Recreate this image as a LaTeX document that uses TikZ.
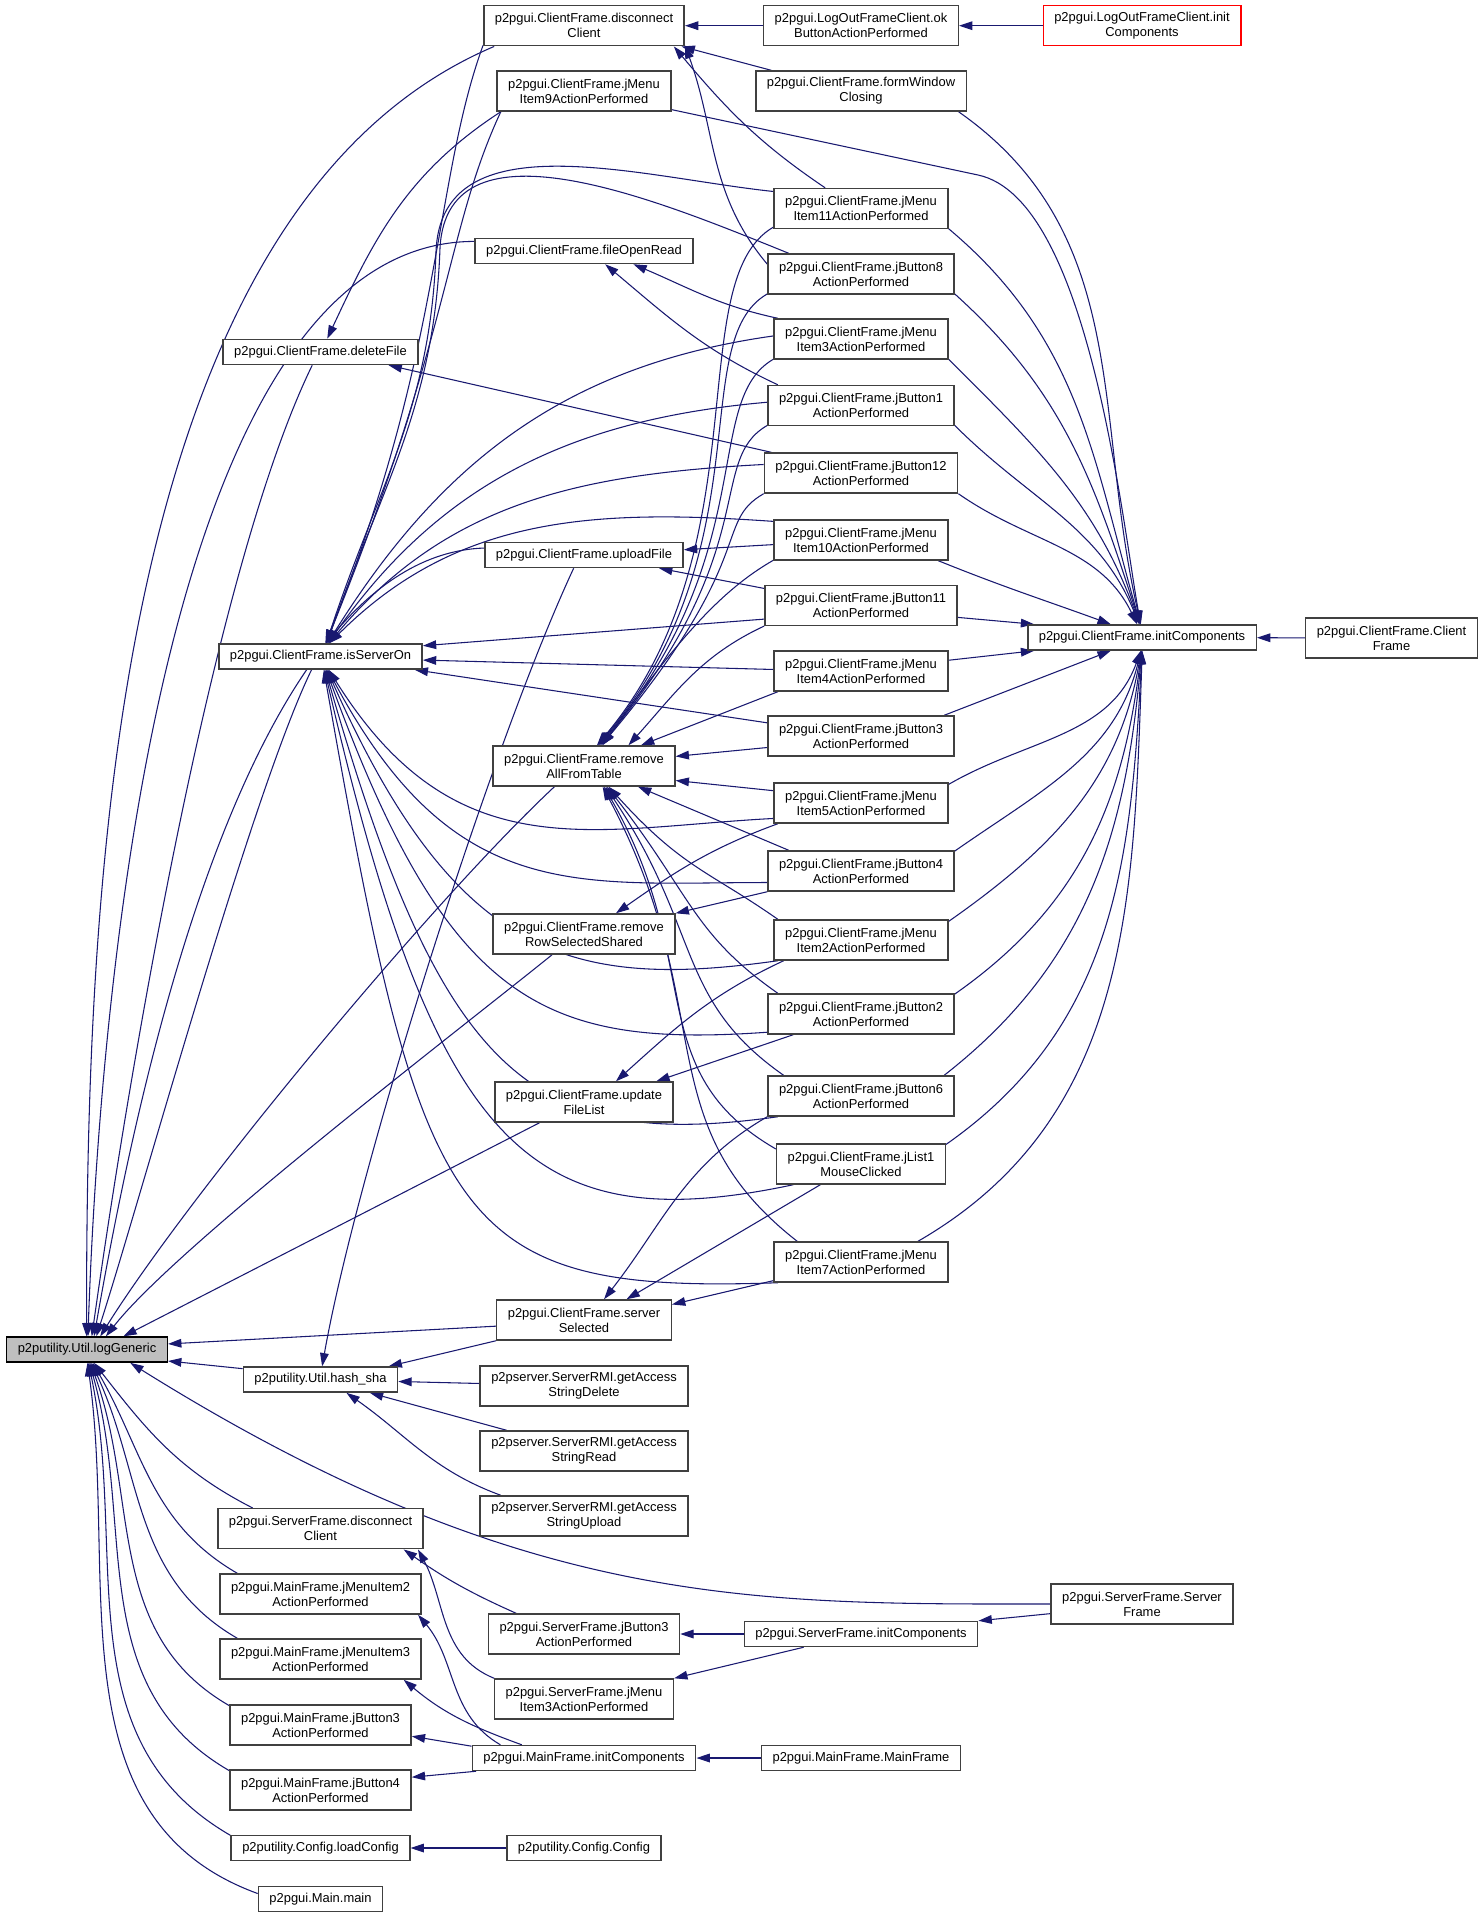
\documentclass[tikz,border=0pt]{standalone}
\usepackage{fontspec}
\newfontfamily\dotfont{Liberation Sans}
\usetikzlibrary{arrows.meta}
\definecolor{edgeblue}{RGB}{25,25,112}
\pgfdeclarelayer{edges}
\pgfsetlayers{edges,main}

\begin{document}
\begin{tikzpicture}[x=0.75pt,y=0.75pt]
\tikzstyle{fnode}=[draw=black!75,fill=white,line width=1.1pt,font=\dotfont\fontsize{9.7}{11.25}\selectfont,align=center,inner xsep=8.3pt,inner ysep=0pt,minimum height=18.75pt]
\tikzstyle{every node}=[fnode]
\tikzstyle{twoline}=[minimum height=30pt]
\tikzstyle{rootnode}=[fill=black!25,draw=black]
\tikzstyle{cutnode}=[draw=red]
\tikzstyle{callarrow}=[edgeblue,line width=0.8pt,{Triangle[length=10pt,width=6.5pt]}-]
\useasboundingbox (0,0) rectangle (1484,-1918);

\node[rootnode] (logGen) at (87,-1349.6) {p2putility.Util.logGeneric};

\node (cfDelete) at (320.5,-352) {p2pgui.ClientFrame.deleteFile};
\node (cfServerOn) at (320.5,-656.5) {p2pgui.ClientFrame.isServerOn};
\node (hashSha) at (320.5,-1379.6) {p2putility.Util.hash\_sha};
\node[twoline] (sfDisconnect) at (320.5,-1528.7) {p2pgui.ServerFrame.disconnect\\Client};
\node[twoline] (mfMenu2) at (320.5,-1594) {p2pgui.MainFrame.jMenuItem2\\ActionPerformed};
\node[twoline] (mfMenu3) at (320.5,-1659) {p2pgui.MainFrame.jMenuItem3\\ActionPerformed};
\node[twoline] (mfButton3) at (320.5,-1725) {p2pgui.MainFrame.jButton3\\ActionPerformed};
\node[twoline] (mfButton4) at (320.5,-1790) {p2pgui.MainFrame.jButton4\\ActionPerformed};
\node (loadConfig) at (320.5,-1848) {p2putility.Config.loadConfig};
\node (mainMain) at (320.5,-1899) {p2pgui.Main.main};

\node[twoline] (cfDisconnect) at (584,-25.7) {p2pgui.ClientFrame.disconnect\\Client};
\node[twoline] (cfMenu9) at (584,-91) {p2pgui.ClientFrame.jMenu\\Item9ActionPerformed};
\node (cfOpenRead) at (584,-251) {p2pgui.ClientFrame.fileOpenRead};
\node (cfUpload) at (584,-555) {p2pgui.ClientFrame.uploadFile};
\node[twoline] (cfRemoveAll) at (584,-766) {p2pgui.ClientFrame.remove\\AllFromTable};
\node[twoline] (cfRemoveRow) at (584,-934) {p2pgui.ClientFrame.remove\\RowSelectedShared};
\node[twoline] (cfUpdate) at (584,-1102) {p2pgui.ClientFrame.update\\FileList};
\node[twoline] (cfSelected) at (584,-1320) {p2pgui.ClientFrame.server\\Selected};
\node[twoline] (rmiDelete) at (584,-1386) {p2pserver.ServerRMI.getAccess\\StringDelete};
\node[twoline] (rmiRead) at (584,-1451) {p2pserver.ServerRMI.getAccess\\StringRead};
\node[twoline] (rmiUpload) at (584,-1516) {p2pserver.ServerRMI.getAccess\\StringUpload};
\node[twoline] (sfButton3) at (584,-1634) {p2pgui.ServerFrame.jButton3\\ActionPerformed};
\node[twoline] (sfMenu3) at (584,-1699) {p2pgui.ServerFrame.jMenu\\Item3ActionPerformed};
\node (mfInit) at (584,-1758) {p2pgui.MainFrame.initComponents};
\node (cfgConfig) at (584,-1848) {p2putility.Config.Config};

\node[twoline] (loOk) at (861,-25.7) {p2pgui.LogOutFrameClient.ok\\ButtonActionPerformed};
\node[twoline] (cfClosing) at (861,-91) {p2pgui.ClientFrame.formWindow\\Closing};
\node[twoline] (cfMenu11) at (861,-208.5) {p2pgui.ClientFrame.jMenu\\Item11ActionPerformed};
\node[twoline] (cfButton8) at (861,-274) {p2pgui.ClientFrame.jButton8\\ActionPerformed};
\node[twoline] (cfMenu3) at (861,-339) {p2pgui.ClientFrame.jMenu\\Item3ActionPerformed};
\node[twoline] (cfButton1) at (861,-405.5) {p2pgui.ClientFrame.jButton1\\ActionPerformed};
\node[twoline] (cfButton12) at (861,-473) {p2pgui.ClientFrame.jButton12\\ActionPerformed};
\node[twoline] (cfMenu10) at (861,-540) {p2pgui.ClientFrame.jMenu\\Item10ActionPerformed};
\node[twoline] (cfButton11) at (861,-605.5) {p2pgui.ClientFrame.jButton11\\ActionPerformed};
\node[twoline] (cfMenu4) at (861,-671) {p2pgui.ClientFrame.jMenu\\Item4ActionPerformed};
\node[twoline] (cfButton3) at (861,-736) {p2pgui.ClientFrame.jButton3\\ActionPerformed};
\node[twoline] (cfMenu5) at (861,-803) {p2pgui.ClientFrame.jMenu\\Item5ActionPerformed};
\node[twoline] (cfButton4) at (861,-871) {p2pgui.ClientFrame.jButton4\\ActionPerformed};
\node[twoline] (cfMenu2) at (861,-940) {p2pgui.ClientFrame.jMenu\\Item2ActionPerformed};
\node[twoline] (cfButton2) at (861,-1014) {p2pgui.ClientFrame.jButton2\\ActionPerformed};
\node[twoline] (cfButton6) at (861,-1096) {p2pgui.ClientFrame.jButton6\\ActionPerformed};
\node[twoline] (cfList1) at (861,-1164) {p2pgui.ClientFrame.jList1\\MouseClicked};
\node[twoline] (cfMenu7) at (861,-1262) {p2pgui.ClientFrame.jMenu\\Item7ActionPerformed};
\node (sfInit) at (861,-1634) {p2pgui.ServerFrame.initComponents};
\node (mfMain) at (861,-1758) {p2pgui.MainFrame.MainFrame};

\node[twoline,cutnode] (loInit) at (1142,-25.7) {p2pgui.LogOutFrameClient.init\\Components};
\node (cfInit) at (1142,-637.5) {p2pgui.ClientFrame.initComponents};
\node[twoline] (sfServer) at (1142,-1604) {p2pgui.ServerFrame.Server\\Frame};
\node[twoline] (cfClient) at (1391.5,-638) {p2pgui.ClientFrame.Client\\Frame};

\coordinate (riseA) at (436,-252);
\coordinate (riseB) at (440,-248);
\coordinate (menuBend) at (978,-175);

\begin{pgfonlayer}{edges}
% callers of logGeneric
\draw[callarrow] (logGen.92) to[out=90,in=-157,looseness=0.8] (cfDisconnect.-167);
\draw[callarrow] (logGen.86) to[out=88,in=180,looseness=0.7] (cfOpenRead.175);
\draw[callarrow] (logGen.70) to[out=82,in=-116,looseness=0.6] (cfDelete.-122);
\draw[callarrow] (logGen.62) to[out=80,in=182,looseness=0.7] (cfUpload.176);
\draw[callarrow] (logGen.55) to[out=72,in=-116,looseness=0.5] (cfServerOn.-124);
\draw[callarrow] (logGen.45) to[out=58,in=-137,looseness=0.6] (cfRemoveAll.-145);
\draw[callarrow] (logGen.35) to[out=52,in=-141,looseness=0.5] (cfRemoveRow.-147);
\draw[callarrow] (logGen.20) -- (cfUpdate.-155);
\draw[callarrow] (logGen.4) -- (cfSelected.-176);
\draw[callarrow] (logGen.-8) -- (hashSha.172);
\draw[callarrow] (logGen.-17) to[out=-32,in=180,out looseness=1.25,in looseness=0.8] (sfServer.west);
\draw[callarrow] (logGen.-62) to[out=-52,in=153] (sfDisconnect.163);
\draw[callarrow] (logGen.-67) to[out=-60,in=150] (mfMenu2.166);
\draw[callarrow] (logGen.-72) to[out=-65,in=150] (mfMenu3.166);
\draw[callarrow] (logGen.-76) to[out=-70,in=150] (mfButton3.168);
\draw[callarrow] (logGen.-80) to[out=-74,in=150] (mfButton4.168);
\draw[callarrow] (logGen.-84) to[out=-78,in=150] (loadConfig.172);
\draw[callarrow] (logGen.-88) to[out=-82,in=160] (mainMain.175);

% callers of isServerOn
\draw[callarrow] (cfServerOn.70) to[out=68,in=-110,out looseness=1.3,in looseness=0.6] (cfDisconnect.-169);
\draw[callarrow] (cfServerOn.68) to[out=68,in=-115,out looseness=1.55,in looseness=0.6] (cfMenu9.-166);
\draw[callarrow] (cfServerOn.66) to[out=72,in=-92] (riseA) to[out=88,in=174] (cfMenu11.169);
\draw[callarrow] (cfServerOn.64) to[out=71,in=-92] (riseB) to[out=87,in=158] (cfButton8.164);
\draw[callarrow] (cfServerOn.62) to[out=58,in=-172] (cfMenu3.178);
\draw[callarrow] (cfServerOn.60) to[out=55,in=-175] (cfButton1.178);
\draw[callarrow] (cfServerOn.58) to[out=50,in=-177] (cfButton12.175);
\draw[callarrow] (cfServerOn.56) to[out=45,in=176] (cfMenu10.168);
\draw[callarrow] (cfServerOn.6) -- (cfButton11.-172);
\draw[callarrow] (cfServerOn.-2) -- (cfMenu4.179);
\draw[callarrow] (cfServerOn.-8) -- (cfButton3.172);
\draw[callarrow] (cfServerOn.-58) to[out=-58,in=-177,out looseness=1.3] (cfMenu5.-170);
\draw[callarrow] (cfServerOn.-61) to[out=-62,in=180,out looseness=1.4] (cfButton4.-173);
\draw[callarrow] (cfServerOn.-64) to[out=-66,in=-172,out looseness=1.5] (cfMenu2.-166);
\draw[callarrow] (cfServerOn.-67) to[out=-70,in=-176,out looseness=1.6] (cfButton2.-169);
\draw[callarrow] (cfServerOn.-70) to[out=-74,in=-172,out looseness=1.7] (cfButton6.-166);
\draw[callarrow] (cfServerOn.-73) to[out=-77,in=-168,out looseness=1.8] (cfList1.-163);
\draw[callarrow] (cfServerOn.-76) to[out=-80,in=-178,out looseness=1.9,in looseness=1.1] (cfMenu7.-166);

% callers of removeAllFromTable
\draw[callarrow] (cfRemoveAll.58) to[out=50,in=-150,out looseness=1.21,in looseness=0.5] (cfMenu11.-168);
\draw[callarrow] (cfRemoveAll.56) to[out=50,in=-150,out looseness=1.38,in looseness=0.5] (cfButton8.-168);
\draw[callarrow] (cfRemoveAll.54) to[out=50,in=-150,out looseness=1.53,in looseness=0.5] (cfMenu3.-167);
\draw[callarrow] (cfRemoveAll.52) to[out=50,in=-150,out looseness=1.81,in looseness=0.5] (cfButton1.-168);
\draw[callarrow] (cfRemoveAll.50) to[out=50,in=-150,out looseness=2.1,in looseness=0.5] (cfButton12.-168);
\draw[callarrow] (cfRemoveAll.48) to[out=55,in=-150,out looseness=1.5,in looseness=0.5] (cfMenu10.-167);
\draw[callarrow] (cfRemoveAll.25) to[out=48,in=-155] (cfButton11.-168);
\draw[callarrow] (cfRemoveAll.20) -- (cfMenu4.-166);
\draw[callarrow] (cfRemoveAll.6) -- (cfButton3.-173);
\draw[callarrow] (cfRemoveAll.-9) -- (cfMenu5.172);
\draw[callarrow] (cfRemoveAll.-21) -- (cfButton4.164);
\draw[callarrow] (cfRemoveAll.-40) to[out=-48,in=145,out looseness=1.3] (cfMenu2.166);
\draw[callarrow] (cfRemoveAll.-42) to[out=-52,in=145,out looseness=1.3] (cfButton2.166);
\draw[callarrow] (cfRemoveAll.-44) to[out=-56,in=145,out looseness=1.3] (cfButton6.165);
\draw[callarrow] (cfRemoveAll.-46) to[out=-60,in=150,out looseness=1.3] (cfList1.170);
\draw[callarrow] (cfRemoveAll.-48) to[out=-62,in=142,out looseness=1.3] (cfMenu7.162);

% callers of ClientFrame.initComponents
\draw[callarrow] (cfInit) -- (cfClient);
\draw[callarrow] (cfInit.95) to[out=103,in=-35] (cfClosing.-12);
\draw[callarrow] (cfInit.96) to[out=100,in=-12,looseness=0.6] (menuBend) -- (cfMenu9.-12);
\draw[callarrow] (cfInit.97) to[out=106,in=-40] (cfMenu11.-13);
\draw[callarrow] (cfInit.98) to[out=108,in=-42] (cfButton8.-12);
\draw[callarrow] (cfInit.100) to[out=110,in=-45] (cfMenu3.-13);
\draw[callarrow] (cfInit.102) to[out=112,in=-45] (cfButton1.-12);
\draw[callarrow] (cfInit.110) to[out=116,in=-35] (cfButton12.-12);
\draw[callarrow] (cfInit.157) to[out=160,in=-22] (cfMenu10.-15);
\draw[callarrow] (cfInit.173) -- (cfButton11.-7);
\draw[callarrow] (cfInit.-173) -- (cfMenu4.7);
\draw[callarrow] (cfInit.-157) -- (cfButton3.14);
\draw[callarrow] (cfInit.-95) to[out=-110,in=30] (cfMenu5.12);
\draw[callarrow] (cfInit.-94) to[out=-104,in=35] (cfButton4.12);
\draw[callarrow] (cfInit.-93) to[out=-100,in=35] (cfMenu2.12);
\draw[callarrow] (cfInit.-92) to[out=-97,in=35] (cfButton2.12);
\draw[callarrow] (cfInit.-91) to[out=-95,in=38] (cfButton6.14);
\draw[callarrow] (cfInit.-90) to[out=-93,in=35] (cfList1.13);
\draw[callarrow] (cfInit.-89) to[out=-92,in=30] (cfMenu7.20);

% ClientFrame.disconnectClient and the small ones
\draw[callarrow] (cfDisconnect) -- (loOk);
\draw[callarrow] (loOk) -- (loInit);
\draw[callarrow] (cfDisconnect.-12) -- (cfClosing.167);
\draw[callarrow] (cfDisconnect.-13) to[out=-50,in=146] (cfMenu11.150);
\draw[callarrow] (cfDisconnect.-11) to[out=-70,in=130] (cfButton8.174);
\draw[callarrow] (cfOpenRead.-15) to[out=-23,in=168] (cfMenu3.166);
\draw[callarrow] (cfOpenRead.-32) to[out=-40,in=155] (cfButton1.166);
\draw[callarrow] (cfUpload.3) -- (cfMenu10.-177);
\draw[callarrow] (cfUpload.-10) -- (cfButton11.170);
\draw[callarrow] (cfDelete.63) to[out=65,in=-147] (cfMenu9.-166);
\draw[callarrow] (cfDelete.-11) -- (cfButton12.167);
\draw[callarrow] (cfRemoveRow.33) to[out=35,in=-160] (cfMenu5.-166);
\draw[callarrow] (cfRemoveRow.north east) -- (cfButton4.south west);
\draw[callarrow] (cfUpdate.33) to[out=42,in=-155] (cfMenu2.-165);
\draw[callarrow] (cfUpdate.16) -- (cfButton2.-163);
\draw[callarrow] (cfSelected.46) to[out=52,in=-150] (cfButton6.south west);
\draw[callarrow] (cfSelected.26) -- (cfList1.-153);
\draw[callarrow] (cfSelected.10) -- (cfMenu7.-168);

% hash_sha
\draw[callarrow] (hashSha.83) to[out=80,in=-115,looseness=0.6] (cfUpload.-128);
\draw[callarrow] (hashSha.11) -- (cfSelected.south west);
\draw[callarrow] (hashSha) -- (rmiDelete);
\draw[callarrow] (hashSha.-15) -- (rmiRead.165);
\draw[callarrow] (hashSha.-27) to[out=-35,in=160] (rmiUpload.166);

% ServerFrame and MainFrame
\draw[callarrow] (sfDisconnect.-14) to[out=-35,in=156] (sfButton3.163);
\draw[callarrow] (sfDisconnect.-12) to[out=-62,in=158] (sfMenu3.167);
\draw[callarrow] (sfButton3) -- (sfInit);
\draw[callarrow] (sfMenu3.north east) -- (sfInit.-167);
\draw[callarrow] (sfInit.north east) -- (sfServer.-174);
\draw[callarrow] (mfMenu2.-12) to[out=-50,in=150] (mfInit.171);
\draw[callarrow] (mfMenu3.-14) to[out=-40,in=160] (mfInit.168);
\draw[callarrow] (mfButton3.-7) -- (mfInit.174);
\draw[callarrow] (mfButton4.8) -- (mfInit.-173);
\draw[callarrow] (mfInit) -- (mfMain);
\draw[callarrow] (loadConfig) -- (cfgConfig);
\end{pgfonlayer}
\end{tikzpicture}
\end{document}
